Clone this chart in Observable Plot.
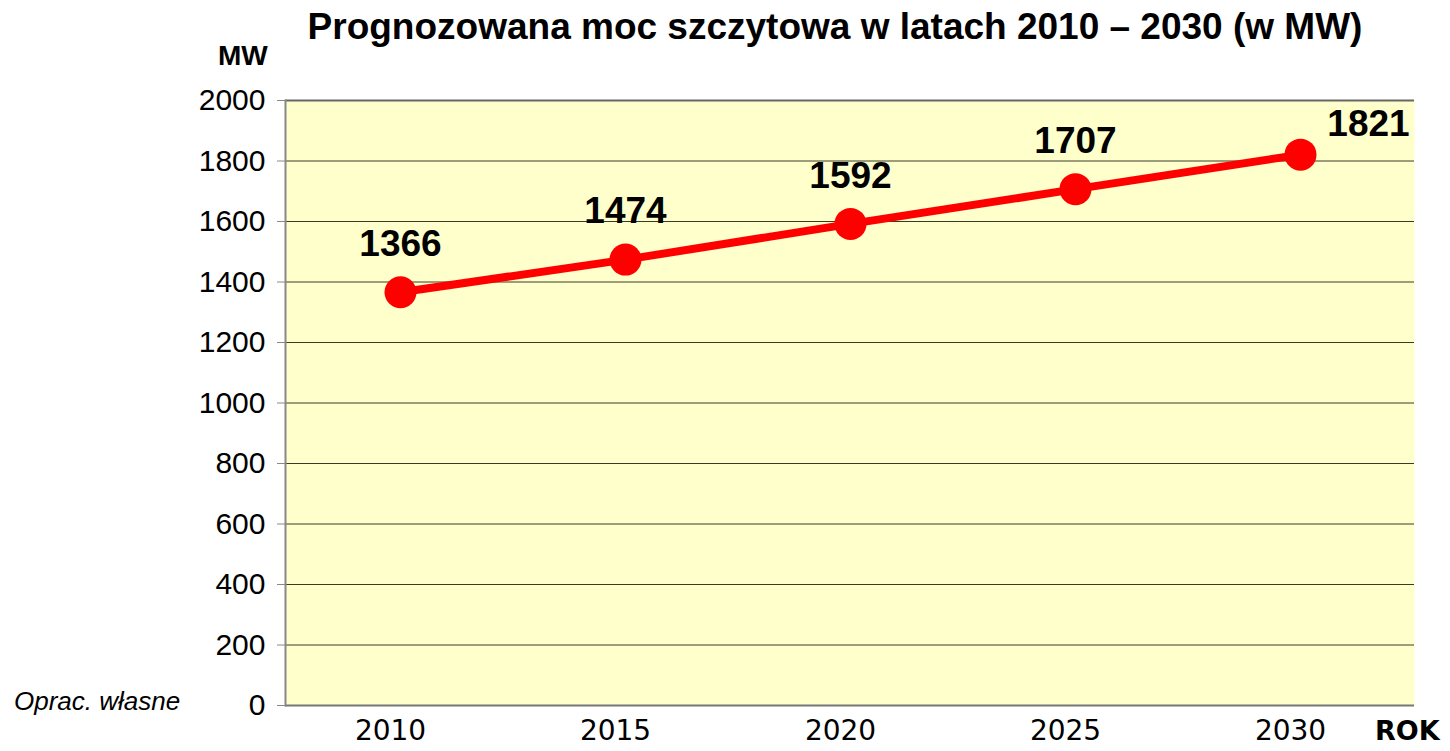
<!DOCTYPE html>
<html>
<head>
<meta charset="utf-8">
<script src="https://cdn.jsdelivr.net/npm/d3@7"></script>
<script src="https://cdn.jsdelivr.net/npm/@observablehq/plot@0.6"></script>
<style>
  html, body { margin: 0; padding: 0; background: #fff; }
  #wrap { position: relative; width: 1450px; height: 751px; }
  .ov { position: absolute; white-space: nowrap; color: #000; }
  #title { left: 0; width: 1670px; top: 6px; text-align: center; font: bold 37px "Liberation Sans", Arial, sans-serif; }
  #mw { left: 218px; top: 40px; font: bold 28px "Liberation Sans", Arial, sans-serif; }
  #rok { left: 1375px; top: 715px; font: bold 27px "DejaVu Sans", sans-serif; }
  #src { left: 14px; top: 686px; font: italic 26px "Liberation Sans Narrow", "Liberation Sans", Arial, sans-serif; }
  svg [aria-label="y-axis tick label"] text { font: 30px "Liberation Sans Narrow", "Liberation Sans", Arial, sans-serif; }
  svg [aria-label="x-axis tick label"] text { font: 28px "DejaVu Sans", sans-serif; }
</style>
</head>
<body>
<div id="wrap">
  <div id="chart"></div>
  <div class="ov" id="title">Prognozowana moc szczytowa w latach 2010 – 2030 (w MW)</div>
  <div class="ov" id="mw">MW</div>
  <div class="ov" id="rok">ROK</div>
  <div class="ov" id="src">Oprac. własne</div>
</div>
<script>
const years = ["2010", "2015", "2020", "2025", "2030"];
const values = [1366, 1474, 1592, 1707, 1821];
const yTicks = [0, 200, 400, 600, 800, 1000, 1200, 1400, 1600, 1800, 2000];

const data = years.map((year, i) => ({year, value: values[i]}));
const last = years[years.length - 1];

const chart = Plot.plot({
  width: 1450,
  height: 751,
  marginLeft: 285,
  marginRight: 36,
  marginTop: 100,
  marginBottom: 46,
  style: {background: "transparent", color: "#000"},
  x: {type: "point", domain: years, padding: 0.5, label: null},
  y: {domain: [0, 2000], label: null},
  marks: [
    Plot.frame({fill: "#FFFFCC", stroke: null}),
    Plot.ruleY(yTicks, {stroke: "#3a3a2a", strokeWidth: 1}),
    Plot.ruleY([2000], {stroke: "#666", strokeWidth: 2}),
    Plot.ruleY([0], {stroke: "#777", strokeWidth: 2}),
    Plot.frame({anchor: "left", stroke: "#888", strokeWidth: 2}),
    Plot.axisY({ticks: yTicks, tickSize: 8, tickPadding: 12, stroke: "#888", label: null, tickFormat: d => String(d)}),
    Plot.axisX({tickSize: 0, tickPadding: 15, dx: -10, label: null}),
    Plot.line(data, {x: "year", y: "value", stroke: "#FF0000", strokeWidth: 8}),
    Plot.dot(data, {x: "year", y: "value", r: 16, fill: "#FF0000", stroke: null}),
    Plot.text(data.filter(d => d.year !== last), {x: "year", y: "value", text: d => String(d.value), dy: -48, fontSize: 37, fontWeight: "bold", fontFamily: "'Liberation Sans Narrow', 'Liberation Sans', Arial, sans-serif", fill: "#000"}),
    Plot.text(data.filter(d => d.year === last), {x: "year", y: "value", text: d => String(d.value), dx: 68, dy: -30, fontSize: 37, fontWeight: "bold", fontFamily: "'Liberation Sans Narrow', 'Liberation Sans', Arial, sans-serif", fill: "#000"})
  ]
});
document.getElementById("chart").appendChild(chart);
</script>
</body>
</html>
